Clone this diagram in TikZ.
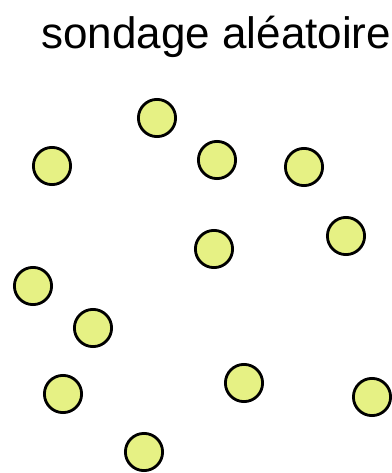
\documentclass[tikz,border=0pt]{standalone}
\usepackage{fontspec}
\setmainfont{Liberation Sans}
\definecolor{dotfill}{RGB}{230,241,132}
\begin{document}
\begin{tikzpicture}[x=1pt,y=-1pt,
  dot/.style={circle,draw=black,fill=dotfill,line width=2.8pt,minimum size=37.2pt,inner sep=0pt},
  titletext/.style={anchor=base,inner sep=0pt,font=\fontsize{44}{44}\selectfont}]
\useasboundingbox[fill=white] (0,0) rectangle (391,473);
\node[titletext] (title) at (216.3,49) {sondage aléatoire};
\node[dot] (c1) at (157,118) {};
\node[dot] (c2) at (52,166) {};
\node[dot] (c3) at (217,160) {};
\node[dot] (c4) at (304,167) {};
\node[dot] (c5) at (346,236) {};
\node[dot] (c6) at (214,249) {};
\node[dot] (c7) at (33,286) {};
\node[dot] (c8) at (93,328) {};
\node[dot] (c9) at (63,394) {};
\node[dot] (c10) at (244,383) {};
\node[dot] (c11) at (372,397) {};
\node[dot] (c12) at (144,452) {};
\end{tikzpicture}
\end{document}
